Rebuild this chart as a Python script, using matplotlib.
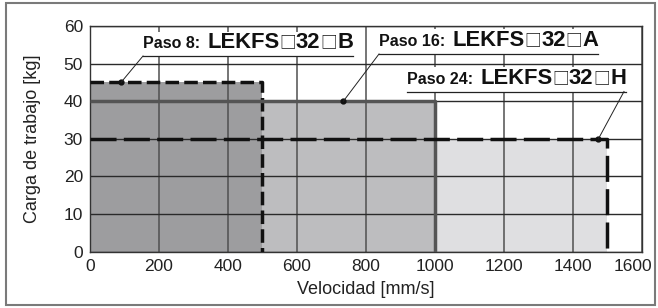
import matplotlib
matplotlib.use("Agg")
import matplotlib.pyplot as plt
from matplotlib.patches import Rectangle
from matplotlib.transforms import ScaledTranslation

plt.rcParams['font.family'] = ['Liberation Sans', 'DejaVu Sans']

# Data
step_labels = ["Paso 8:", "Paso 16:", "Paso 24:"]
model_codes = ["B", "A", "H"]
model_prefix = "LEKFS"
model_size = "32"
max_speed = [500, 1000, 1500]      # mm/s
max_load = [45, 40, 30]            # kg
dot_x = [90, 735, 1475]
fill_colors = ['#9d9d9f', '#bdbdbf', '#dfdfe1']
line_colors = ['#111111', '#555555', '#111111']
line_styles = [(0, (3.9, 1.5)), '-', (0, (7.5, 2.1))]
xticks = [0, 200, 400, 600, 800, 1000, 1200, 1400, 1600]
yticks = [0, 10, 20, 30, 40, 50, 60]

W, H = 658.0, 308.0
fig = plt.figure(figsize=(W / 100, H / 100), dpi=100)
ax = fig.add_axes([90 / W, 1 - 251.7 / H, (641.5 - 90) / W, (251.7 - 26) / H])

for i in [2, 1, 0]:
    ax.add_patch(Rectangle((0, 0), max_speed[i], max_load[i], facecolor=fill_colors[i],
                           edgecolor='none', zorder=1))

ax.set_xlim(0, 1600)
ax.set_ylim(0, 60)
ax.set_xticks(xticks)
ax.set_yticks(yticks)
ax.set_axisbelow(False)
ax.xaxis.grid(True, color='#505050', linewidth=1.1, zorder=2)
ax.yaxis.grid(True, color='#2a2a2a', linewidth=1.0, zorder=2)
for gl in ax.get_xgridlines() + ax.get_ygridlines():
    gl.set_zorder(2)

for i in range(3):
    ax.plot([0, max_speed[i], max_speed[i]], [max_load[i], max_load[i], 0],
            color=line_colors[i], linestyle=line_styles[i], linewidth=2.5,
            zorder=4, solid_capstyle='butt', dash_capstyle='butt')

for s in ax.spines.values():
    s.set_color('#333333')
    s.set_linewidth(1.0)
    s.set_zorder(3)
ax.tick_params(length=0, labelsize=12.5, pad=5, labelcolor='#222222')
ax.set_xlabel('Velocidad [mm/s]', fontsize=13, labelpad=5, color='#222222')
ax.set_ylabel('Carga de trabajo [kg]', fontsize=13, labelpad=16, color='#222222')

fig.canvas.draw()
last = ax.get_xticklabels()[-1]
last.set_transform(last.get_transform() + ScaledTranslation(-9 / 100, 0, fig.dpi_scale_trans))

# Annotations (segmented text, baseline in pixels from top)
renderer = fig.canvas.get_renderer()
text_start = [143, 379, 407]
baseline = [48.5, 46.5, 84]
for i in range(3):
    segs = [(step_labels[i], 11.5, 'bold', ['Liberation Sans'], 7, 0),
            (model_prefix, 15.8, 'bold', ['Liberation Sans'], 0, 0),
            ("\u25a1", 12, 'normal', ['Noto Sans CJK JP'], 0, 1.2),
            (model_size, 15.8, 'bold', ['Liberation Sans'], 0, 0),
            ("\u25a1", 12, 'normal', ['Noto Sans CJK JP'], 0, 1.2),
            (model_codes[i], 15.8, 'bold', ['Liberation Sans'], 0, 0)]
    x = text_start[i]
    for s, fs, fw, fam, gap, dy in segs:
        yb = 1 - (baseline[i] - dy) / H
        t = fig.text(x / W, yb, s, fontsize=fs, fontweight=fw, family=fam, ha='left',
                     va='baseline', color='#111111', zorder=6)
        bb = t.get_window_extent(renderer)
        x = bb.x1 + gap
    x_end = x
    fig.add_artist(Rectangle(((text_start[i] - 3) / W, 1 - (baseline[i] + 8) / H),
                             (x_end - text_start[i] + 6) / W, 25 / H,
                             transform=fig.transFigure, facecolor='white',
                             edgecolor='none', zorder=5))
    ul = baseline[i] + 7.5
    fig.add_artist(plt.Line2D([text_start[i] / W, x_end / W], [1 - ul / H, 1 - ul / H],
                              color='#222222', linewidth=0.9, zorder=6))
    disp = ax.transData.transform((dot_x[i], max_load[i]))
    fx, fy = fig.transFigure.inverted().transform(disp)
    lx = text_start[i] if i < 2 else x_end - 2
    fig.add_artist(plt.Line2D([lx / W, fx], [1 - ul / H, fy], color='#222222',
                              linewidth=0.7, zorder=6))
    ax.plot([dot_x[i]], [max_load[i]], 'o', color='#111111', markersize=3.5, zorder=6)

fig.add_artist(Rectangle((6 / W, 3 / H), 649 / W, 302 / H, transform=fig.transFigure,
                         facecolor='none', edgecolor='#7a7a7a', linewidth=1.5))

fig.savefig('out.png', dpi=100)
